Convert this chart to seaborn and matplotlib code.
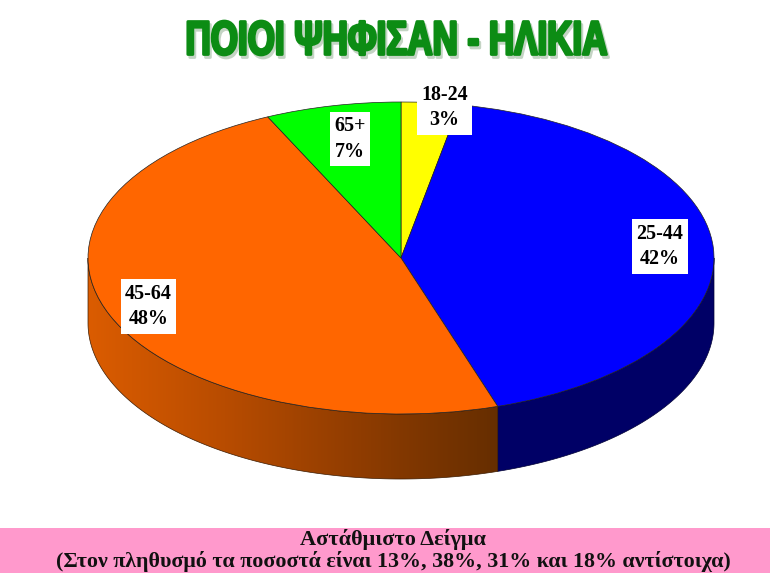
import numpy as np
import matplotlib
matplotlib.use("Agg")
import matplotlib.pyplot as plt
import matplotlib.patheffects as pe
from matplotlib.colors import LinearSegmentedColormap, to_rgba
from matplotlib.patches import Polygon, Rectangle
from matplotlib.transforms import Affine2D
import seaborn as sns

categories = ["18-24", "25-44", "45-64", "65+"]
values = [3, 42, 48, 7]
slice_colors = ["#FFFF00", "#0000FF", "#FF6600", "#00FF00"]
title = "ΠΟΙΟΙ ΨΗΦΙΣΑΝ - ΗΛΙΚΙΑ"
note_lines = ["Αστάθμιστο Δείγμα",
              "(Στον πληθυσμό τα ποσοστά είναι 13%, 38%, 31% και 18% αντίστοιχα)"]

W, H = 770, 573
CX, CY, RX, RY = 401, 258, 313, 156
DEPTH = 65 / RY

sns.set_theme(style="white")
plt.rcParams["font.family"] = ["Liberation Serif", "DejaVu Sans"]


class SqueezeX(pe.AbstractPathEffect):
    # no condensed font installed, so squeeze the glyphs around a centre
    def __init__(self, sx, cx, offset=(0, 0), color=None, lw=0):
        self.sx, self.cx, self.offset, self.color, self.lw = sx, cx, offset, color, lw

    def draw_path(self, renderer, gc, tpath, affine, rgbFace=None):
        squeeze = Affine2D().translate(-self.cx, 0).scale(self.sx, 1).translate(self.cx, 0)
        squeeze = squeeze.translate(*self.offset)
        gc2 = renderer.new_gc()
        gc2.copy_properties(gc)
        if self.color is not None:
            rgbFace = to_rgba(self.color)
            gc2.set_foreground(rgbFace)
        gc2.set_linewidth(self.lw)
        renderer.draw_path(gc2, tpath, affine + squeeze, rgbFace)
        gc2.restore()


def fx(px):
    return px / W


def fy(py):
    return 1 - py / H


fig = plt.figure(figsize=(W / 100, H / 100), dpi=100, facecolor="white")
ax = fig.add_axes([0, 0, 1, 1])
wedges, _ = ax.pie(values, colors=slice_colors, startangle=90, counterclock=False, radius=1,
                   wedgeprops=dict(edgecolor="#222222", linewidth=0.5, zorder=3))
ax.set_aspect("auto")
ax.axis("off")

# side wall of the disc, from the slice angles (clockwise from the top)
ends = np.cumsum(values) / 100 * 360


def wall(a, b):
    th = np.radians(np.linspace(a, b, 120))
    x, y = np.sin(th), np.cos(th)
    return np.r_[np.c_[x, y], np.c_[x, y - DEPTH][::-1]]


blue_wall = Polygon(wall(90, ends[1]), facecolor="#000066", edgecolor="#000033",
                    linewidth=0.5, zorder=1)
ax.add_patch(blue_wall)

orange_pts = wall(ends[1], 270)
orange_cmap = LinearSegmentedColormap.from_list(
    "wall", sns.blend_palette(["#DB5C00", "#B84C00", "#8F3C00", "#662E00"], 64))
xmin, xmax = orange_pts[:, 0].min(), orange_pts[:, 0].max()
im = ax.imshow(np.linspace(0, 1, 256)[None, :], cmap=orange_cmap, aspect="auto",
               extent=[xmin, xmax, orange_pts[:, 1].min(), orange_pts[:, 1].max()], zorder=1.5)
orange_edge = Polygon(orange_pts, facecolor="none", edgecolor="#3A1A00", linewidth=0.5, zorder=2)
ax.add_patch(orange_edge)
im.set_clip_path(orange_edge)
ax.set_xlim(-CX / RX, (W - CX) / RX)
ax.set_ylim((CY - H) / RY, CY / RY)

# white boxed labels
label_pos = [(444.5, 107.5), (660, 246.5), (148.5, 306.5), (350, 139)]
for cat, val, (px, py) in zip(categories, values, label_pos):
    fig.text(fx(px), fy(py), f"{cat}\n{val}%", ha="center", va="center", fontsize=14.4,
             fontweight="bold", color="black", linespacing=1.35, zorder=5,
             bbox=dict(facecolor="white", edgecolor="none", pad=3.2))

# title
title_cx = 396.5
t = fig.text(fx(title_cx), fy(42), title, ha="center", va="center", fontsize=34.5,
             fontweight="bold", family="Liberation Sans", color="#0C8C14", zorder=5)
t.set_path_effects([SqueezeX(0.73, title_cx, offset=(2, -3), color="#C4D4C4", lw=2.0),
                    SqueezeX(0.73, title_cx, color="#0C8C14", lw=2.0)])

# bottom note
fig.add_artist(Rectangle((0, 0), 1, 45 / H, transform=fig.transFigure,
                         facecolor="#FF99CC", edgecolor="none", zorder=1))
fig.text(fx(393), fy(539), note_lines[0], ha="center", va="center", fontsize=16,
         fontweight="bold", color="#111111", zorder=5)
fig.text(fx(393), fy(562), note_lines[1], ha="center", va="center", fontsize=15.8,
         fontweight="bold", color="#111111", zorder=5)

fig.savefig("out.png", dpi=100, facecolor="white")
